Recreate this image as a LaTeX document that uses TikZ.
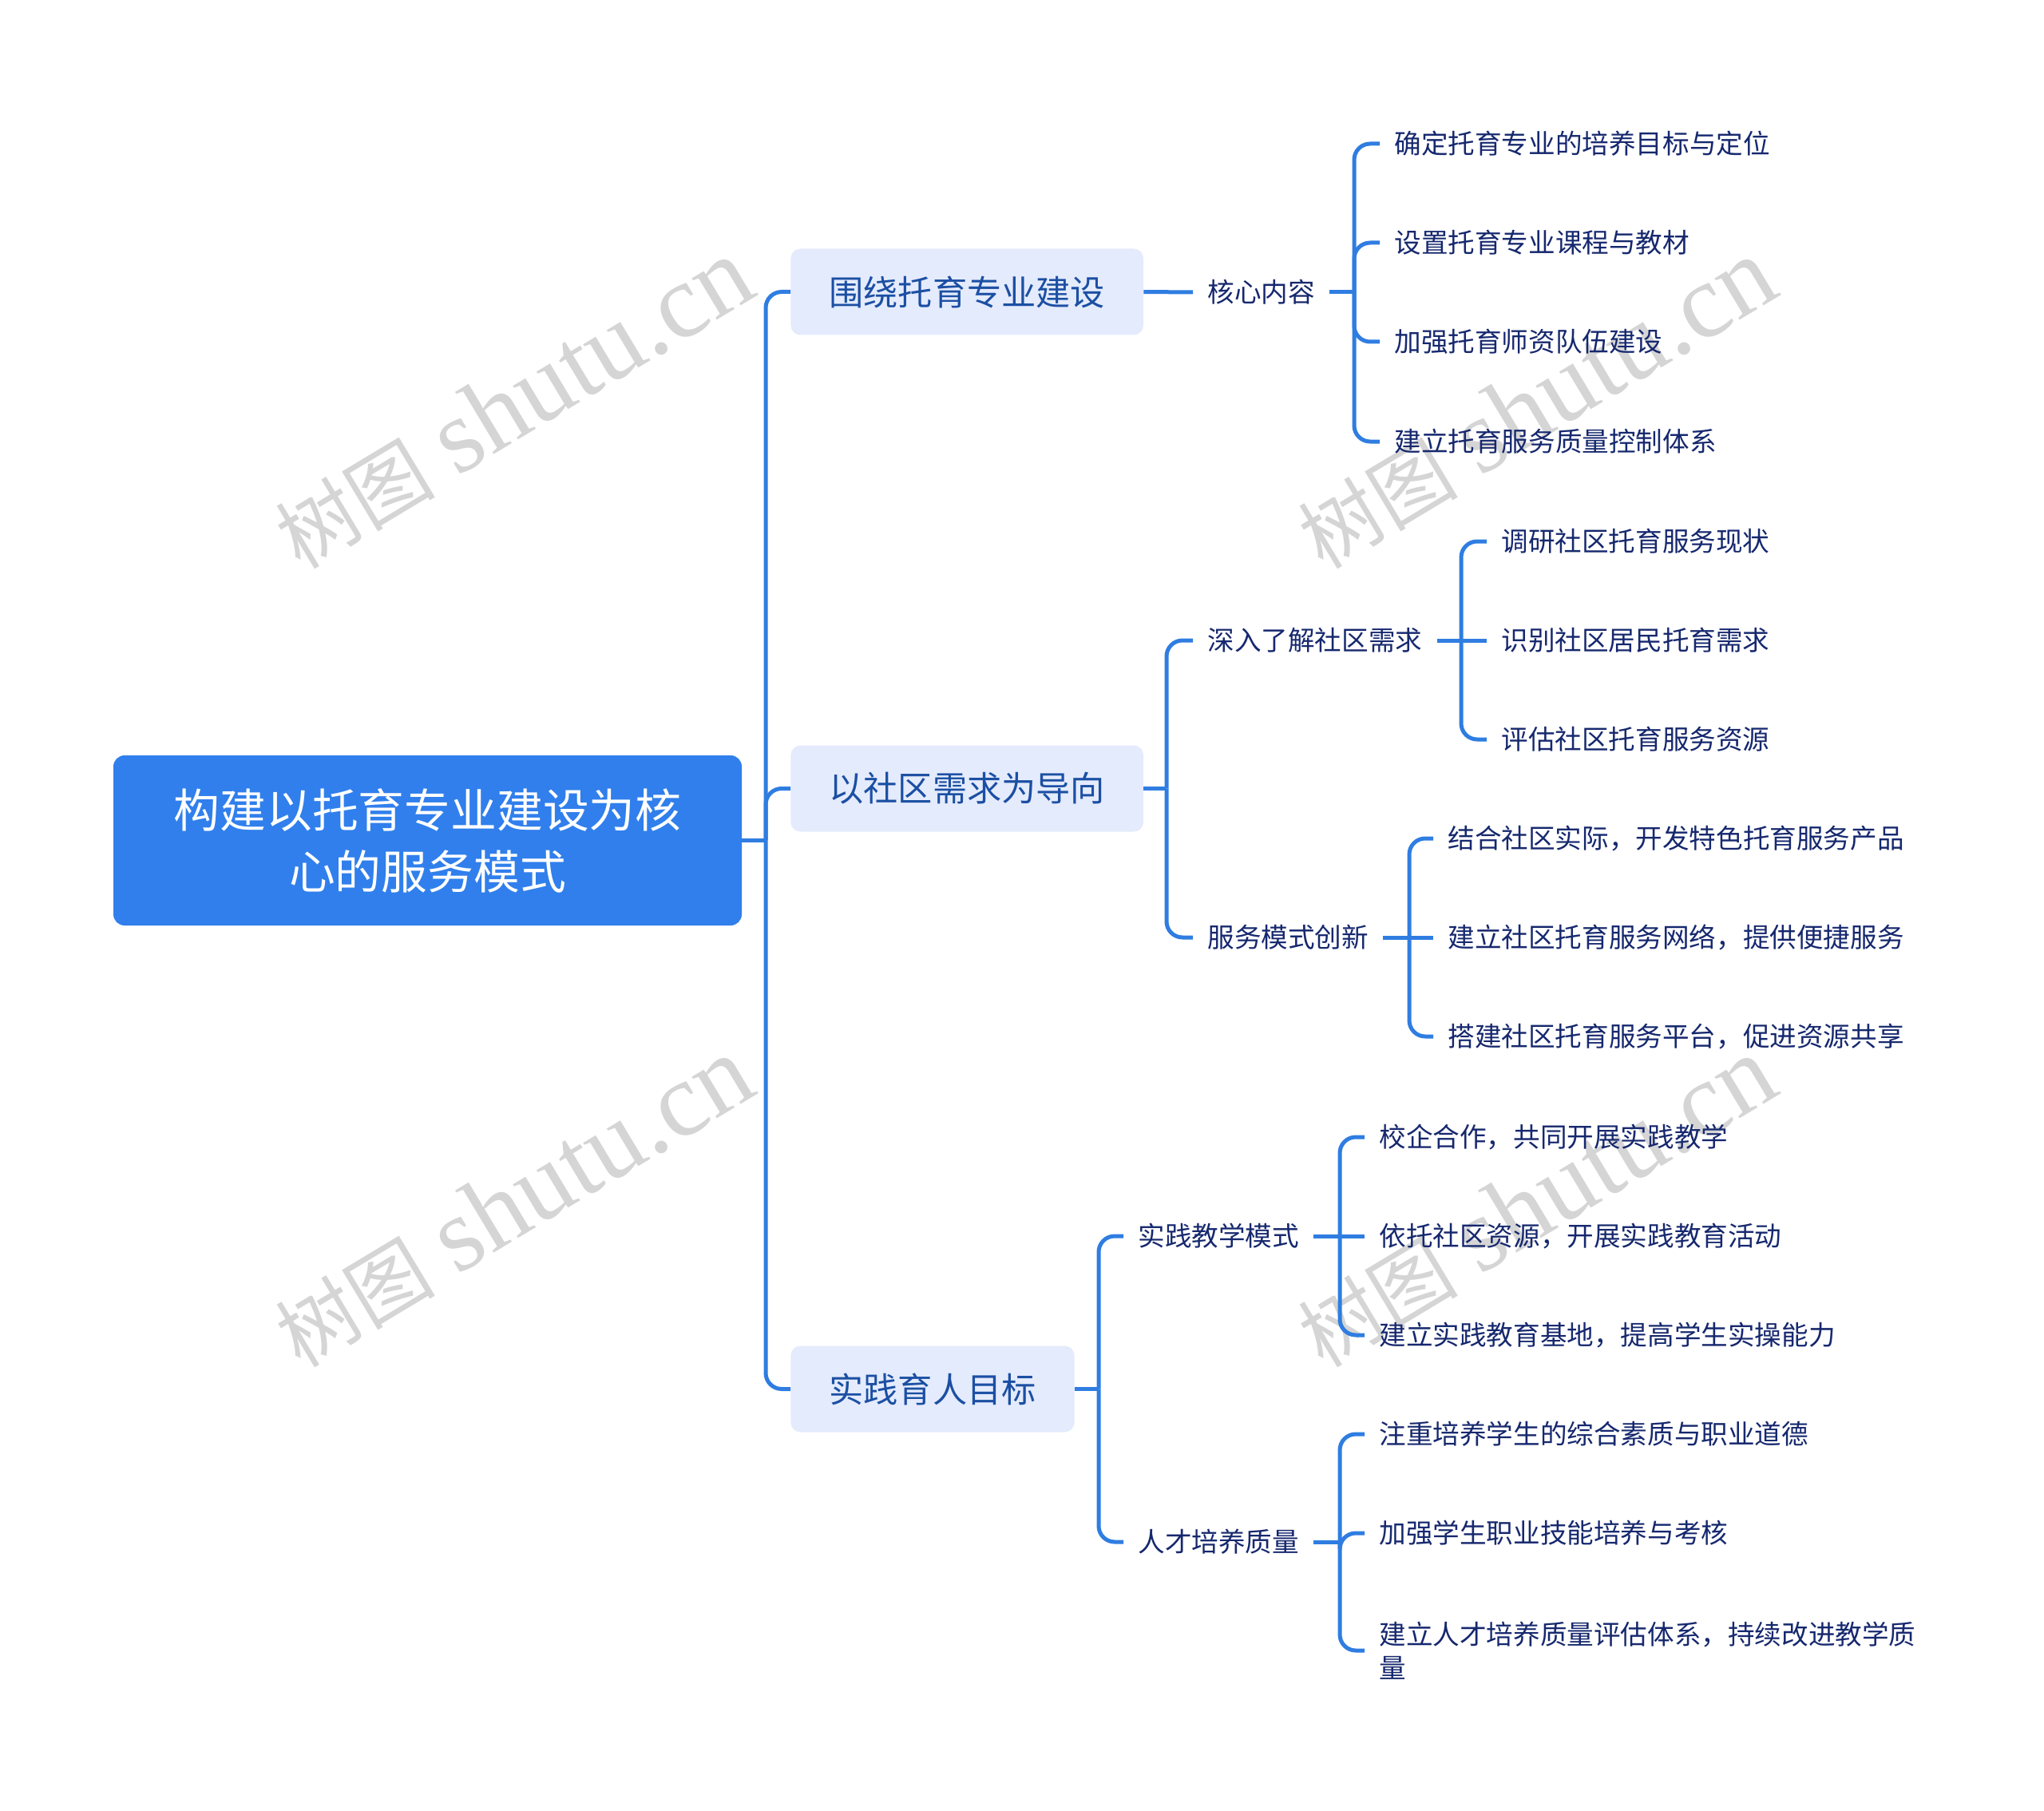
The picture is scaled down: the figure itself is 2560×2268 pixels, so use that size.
\documentclass[tikz,border=0pt]{standalone}
\usepackage{fontspec}
\setmainfont{Noto Sans CJK SC}
\newfontfamily\wmlatin{Liberation Serif}
\usetikzlibrary{calc}
\definecolor{linkblue}{HTML}{2F7DE1}
\definecolor{rootfill}{HTML}{307FEC}
\definecolor{branchfill}{HTML}{E4EBFC}
\definecolor{branchtext}{HTML}{1B4FA3}
\definecolor{leaftext}{HTML}{16286E}
\definecolor{wmgray}{HTML}{D5D5D5}
\tikzset{
  x=0.5pt,y=-0.5pt,
  rootbox/.style={draw=none,fill=rootfill,rounded corners=7pt,text=white,align=center,
    minimum width=393.5pt,minimum height=106.5pt,inner sep=0pt,
    font=\fontsize{28.9pt}{38.5pt}\selectfont},
  branchbox/.style={fill=branchfill,rounded corners=6pt,text=branchtext,anchor=west,
    minimum height=54pt,inner xsep=24pt,inner ysep=0pt,
    font=\fontsize{21.6pt}{26pt}\selectfont},
  subitem/.style={anchor=west,text=leaftext,inner xsep=9pt,inner ysep=2pt,align=left,
    font=\fontsize{16.8pt}{21pt}\selectfont},
  stem/.style={draw=linkblue,line width=2.5pt},
  elbow/.style={draw=linkblue,line width=2.5pt,rounded corners=10pt},
  watermark/.style={text=wmgray,rotate=31,inner sep=0pt,
    font=\fontsize{50pt}{65pt}\selectfont},
}
\newcommand{\wmark}[2]{\node[watermark] (#1) at (#2) {树图\hspace{14pt}{\wmlatin\fontsize{66pt}{70pt}\selectfont shutu.cn}};}
\newcommand{\tree}[3]{% parent, bar coordinate, list of children that bend
  \coordinate (#2) at (#1.east -| #2x);
  \draw[stem] (#1.east) -- (#2);
  \foreach \c in {#3}{\draw[elbow] (#2) -- (#2 |- \c.west) -- (\c.west);}
}
\begin{document}
\begin{tikzpicture}
\useasboundingbox (0,0) rectangle (2560,2268);
\fill[white] (0,0) rectangle (2560,2268);
\wmark{wa}{643,506}
\wmark{wb}{1924,506}
\wmark{wc}{643,1506}
\wmark{wd}{1924,1506}

\node[rootbox] (root) at (535.5,1052.5) {构建以托育专业建设为核\\心的服务模式};

\node[branchbox] (b1) at (990,365.5) {围绕托育专业建设};
\node[branchbox] (b2) at (990,987.5) {以社区需求为导向};
\node[branchbox] (b3) at (990,1739.5) {实践育人目标};

\node[subitem] (c1) at (1494,366) {核心内容};
\node[subitem] (c2) at (1494,802) {深入了解社区需求};
\node[subitem] (c3) at (1494,1174) {服务模式创新};
\node[subitem] (c4) at (1407,1548) {实践教学模式};
\node[subitem] (c5) at (1407,1931) {人才培养质量};

\node[subitem] (l11) at (1728,180) {确定托育专业的培养目标与定位};
\node[subitem] (l12) at (1728,304) {设置托育专业课程与教材};
\node[subitem] (l13) at (1728,428) {加强托育师资队伍建设};
\node[subitem] (l14) at (1728,553) {建立托育服务质量控制体系};
\node[subitem] (l21) at (1862,678) {调研社区托育服务现状};
\node[subitem] (l22) at (1862,802) {识别社区居民托育需求};
\node[subitem] (l23) at (1862,926) {评估社区托育服务资源};
\node[subitem] (l31) at (1795,1050) {结合社区实际，开发特色托育服务产品};
\node[subitem] (l32) at (1795,1174) {建立社区托育服务网络，提供便捷服务};
\node[subitem] (l33) at (1795,1298) {搭建社区托育服务平台，促进资源共享};
\node[subitem] (l41) at (1709,1424) {校企合作，共同开展实践教学};
\node[subitem] (l42) at (1709,1548) {依托社区资源，开展实践教育活动};
\node[subitem] (l43) at (1709,1672) {建立实践教育基地，提高学生实操能力};
\node[subitem] (l51) at (1709,1796) {注重培养学生的综合素质与职业道德};
\node[subitem] (l52) at (1709,1920) {加强学生职业技能培养与考核};
\node[subitem] (l53) at (1709,2067) {建立人才培养质量评估体系，持续改进教学质\\量};

\coordinate (t0x) at (959,0);
\coordinate (t1x) at (1461,0);
\coordinate (t2x) at (1376,0);
\coordinate (t3x) at (1696,0);
\coordinate (t4x) at (1830,0);
\coordinate (t5x) at (1765,0);
\coordinate (t6x) at (1678,0);
\coordinate (t7x) at (1678,0);

\tree{root}{t0}{b1,b2,b3}
\draw[stem] (b1.east) -- (c1.west);
\tree{b2}{t1}{c2,c3}
\tree{b3}{t2}{c4,c5}
\tree{c1}{t3}{l11,l12,l13,l14}
\tree{c2}{t4}{l21,l23}
\draw[stem] (t4) -- (l22.west);
\tree{c3}{t5}{l31,l33}
\draw[stem] (t5) -- (l32.west);
\tree{c4}{t6}{l41,l43}
\draw[stem] (t6) -- (l42.west);
\tree{c5}{t7}{l51,l52,l53}
\end{tikzpicture}
\end{document}
